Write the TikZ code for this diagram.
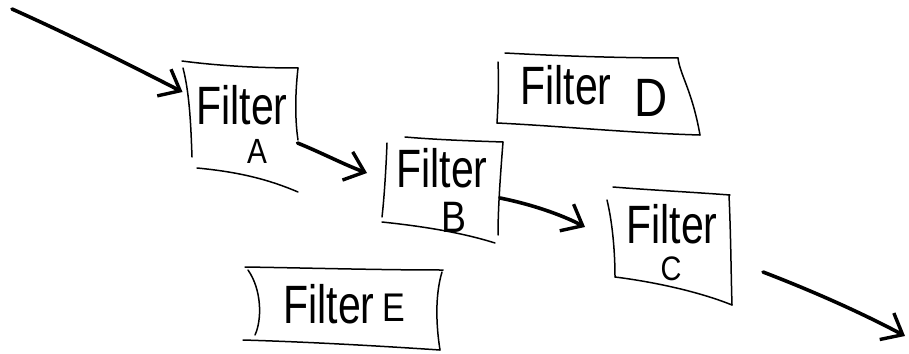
\documentclass[tikz,border=0pt]{standalone}
\usepackage{fontspec}
\setmainfont{Liberation Sans}
\usetikzlibrary{arrows.meta,calc}

% hand-lettered captions: narrow, tall letters
\newcommand{\filterword}{\scalebox{0.76}[1]{\fontsize{54}{56}\selectfont Filter}}
\newcommand{\tag}[2]{\scalebox{0.85}[1]{\fontsize{#1}{#1}\selectfont #2}}

\tikzset{
  edge/.style={line width=1.5pt, line cap=round, black},
  flow/.style={line width=3.6pt, line cap=round, line join=round,
               -{Straight Barb[length=18pt,width=30pt,line width=3.4pt]}},
  frame/.style={inner sep=0pt, outer sep=0pt},
  word/.style={inner sep=0pt, anchor=center, text depth=0pt},
}

\begin{document}
\begin{tikzpicture}[x=1pt,y=-1pt]
  \useasboundingbox (0,0) rectangle (909,353);

  % invisible frames standing for the five filters
  \node[frame, minimum width=115pt, minimum height=115pt] (fA) at (240,122) {};
  \node[frame, minimum width=118pt, minimum height=100pt] (fB) at (443,190) {};
  \node[frame, minimum width=120pt, minimum height=110pt] (fC) at (670,245) {};
  \node[frame, minimum width=200pt, minimum height=75pt]  (fD) at (598,95)  {};
  \node[frame, minimum width=195pt, minimum height=78pt]  (fE) at (344,307) {};

  % Filter A outline
  \draw[edge] (182,61) .. controls (220,66) and (260,68) .. (298,68);
  \draw[edge] (183,68) .. controls (190,95) and (191,130) .. (192,157);
  \draw[edge] (298,68) .. controls (295,95) and (295,120) .. (298,140);
  \draw[edge] (197,168) .. controls (240,172) and (270,180) .. (298,192);

  % Filter B outline
  \draw[edge] (405,137) .. controls (440,140) and (475,141) .. (503,142);
  \draw[edge] (387,143) .. controls (386,170) and (384,200) .. (382,217);
  \draw[edge] (503,142) .. controls (500,180) and (498,210) .. (498,235);
  \draw[edge] (382,222) .. controls (420,226) and (460,232) .. (495,243);

  % Filter C outline
  \draw[edge] (613,187) .. controls (650,190) and (690,192) .. (730,195);
  \draw[edge] (607,200) .. controls (613,225) and (615,255) .. (615,277);
  \draw[edge] (729,195) .. controls (731,240) and (731,275) .. (732,305);
  \draw[edge] (615,277) .. controls (655,282) and (700,292) .. (732,305);

  % Filter D outline
  \draw[edge] (505,53) .. controls (560,56) and (620,58) .. (678,58);
  \draw[edge] (498,62) .. controls (499,85) and (498,105) .. (497,123);
  \draw[edge] (678,58) .. controls (680,75) and (692,90) .. (700,135);
  \draw[edge] (497,123) .. controls (560,126) and (630,133) .. (700,135);

  % Filter E outline
  \draw[edge] (245,267) .. controls (310,268) and (380,270) .. (443,270);
  \draw[edge] (248,270) .. controls (262,290) and (262,320) .. (255,335);
  \draw[edge] (442,272) .. controls (435,295) and (436,325) .. (440,350);
  \draw[edge] (243,340) .. controls (310,342) and (380,346) .. (440,350);

  % captions
  \node[word] (wA) at (242,105) {\filterword};
  \node[word] (lA) at (257,151) {\tag{35}{A}};
  \node[word] (wB) at (442,168) {\filterword};
  \node[word] (lB) at (454,217) {\tag{44}{B}};
  \node[word] (wC) at (672,224) {\filterword};
  \node[word] (lC) at (671,269) {\tag{34}{C}};
  \node[word] (wD) at (566,85)  {\filterword};
  \node[word] (lD) at (651,98)  {\tag{54}{D}};
  \node[word] (wE) at (329,304) {\filterword};
  \node[word] (lE) at (394,308) {\tag{40}{E}};

  % data flow through the chain
  \coordinate (source) at (12,9);
  \coordinate (sink) at (905,336);
  \draw[flow] (source) .. controls (70,35) and (130,65) .. ($(fA.west)+(0,-30)$);
  \draw[flow] ($(fA.east)+(0,21)$) .. controls (320,152) and (345,165) .. ($(fB.west)+(-17,-17)$);
  \draw[flow] ($(fB.east)+(-2,8)$) .. controls (530,204) and (560,214) .. ($(fC.west)+(-25,-18)$);
  \draw[flow] ($(fC.east)+(33,27)$) .. controls (810,290) and (860,312) .. (sink);
\end{tikzpicture}
\end{document}
